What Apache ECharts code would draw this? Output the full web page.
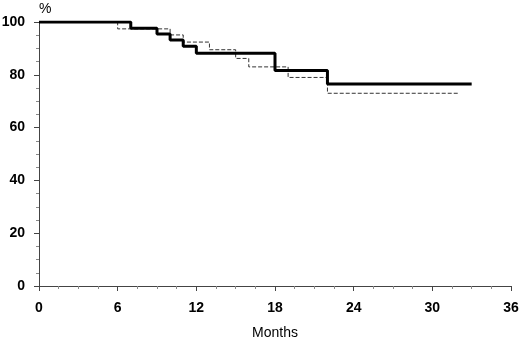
<!DOCTYPE html>
<html>
<head>
<meta charset="utf-8">
<script src="https://cdn.jsdelivr.net/npm/echarts@6/dist/echarts.min.js"></script>
<style>
  html, body { margin: 0; padding: 0; background: #fff; }
  #chart { width: 520px; height: 340px; }
</style>
</head>
<body>
<div id="chart"></div>
<script>
// survival steps
var solidMonths = [0, 7, 9, 10, 11, 12, 18, 22, 33]
var solidPct = [100, 97.6, 95.5, 93.2, 90.8, 88.2, 81.6, 76.5, 76.5]
var dashedMonths = [0, 6, 10, 11, 13, 15, 16, 19, 22, 32]
var dashedPct = [100, 97.4, 95.1, 92.4, 89.5, 86.2, 83.0, 79.0, 73.0, 73.0]
var xTicks = [0, 6, 12, 18, 24, 30, 36]
var yTicks = [0, 20, 40, 60, 80, 100]

function pairs(xs, ys) {
  return xs.map(function (x, i) { return [x, ys[i]] })
}

var axisColor = '#444'
var chart = echarts.init(document.getElementById('chart'))
chart.setOption({
  animation: false,
  grid: { left: 39, right: 9, top: 22, bottom: 54, containLabel: false, outerBoundsMode: 'none' },
  xAxis: {
    type: 'value',
    min: xTicks[0],
    max: xTicks[xTicks.length - 1],
    interval: 6,
    name: 'Months',
    nameLocation: 'middle',
    nameGap: 40,
    nameTextStyle: { color: '#000', fontSize: 14, fontFamily: 'Liberation Sans' },
    splitLine: { show: false },
    axisLine: { lineStyle: { color: axisColor, width: 1 } },
    axisTick: { length: 5, lineStyle: { color: axisColor } },
    minorTick: { show: true, splitNumber: 4, length: 3, lineStyle: { color: '#888' } },
    axisLabel: {
      margin: 15,
      color: '#000',
      fontSize: 14,
      fontWeight: 'bold',
      fontFamily: 'Liberation Sans'
    }
  },
  yAxis: {
    type: 'value',
    min: yTicks[0],
    max: yTicks[yTicks.length - 1],
    interval: 20,
    name: '%',
    nameLocation: 'end',
    nameGap: 6,
    nameTextStyle: { color: '#000', fontSize: 14, fontFamily: 'Liberation Sans', align: 'left' },
    splitLine: { show: false },
    axisLine: { show: true, lineStyle: { color: axisColor, width: 1 } },
    axisTick: { show: true, length: 5, lineStyle: { color: axisColor } },
    minorTick: { show: true, splitNumber: 4, length: 3, lineStyle: { color: '#888' } },
    axisLabel: {
      margin: 14,
      color: '#000',
      fontSize: 14,
      fontWeight: 'bold',
      fontFamily: 'Liberation Sans'
    }
  },
  series: [
    {
      name: 'dashed',
      type: 'line',
      step: 'end',
      showSymbol: false,
      data: pairs(dashedMonths, dashedPct),
      lineStyle: { color: '#333', width: 1, type: [4, 2] },
      z: 2
    },
    {
      name: 'solid',
      type: 'line',
      step: 'end',
      showSymbol: false,
      data: pairs(solidMonths, solidPct),
      lineStyle: { color: '#000', width: 3 },
      z: 3
    }
  ]
})
</script>
</body>
</html>
